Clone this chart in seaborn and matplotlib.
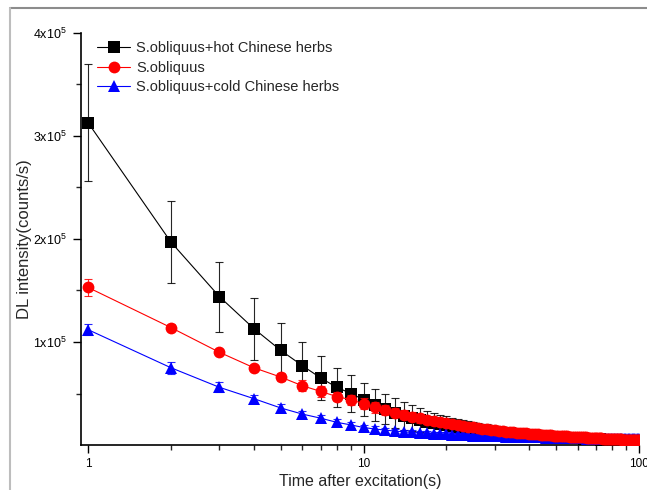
import matplotlib
matplotlib.use("Agg")
import matplotlib.pyplot as plt
import seaborn as sns
import pandas as pd
from matplotlib.ticker import FixedLocator, NullFormatter, LogLocator
from matplotlib.lines import Line2D

# ---------------- data (values in units of 1e5 counts/s) ----------------
time_s = list(range(1, 101))

series_names = ["S.obliquus+hot Chinese herbs", "S.obliquus", "S.obliquus+cold Chinese herbs"]

hot_vals = [3.13, 1.97, 1.44, 1.13, 0.92, 0.77, 0.65, 0.56, 0.50, 0.44,
            0.39, 0.35, 0.31, 0.285, 0.26, 0.24, 0.225, 0.21, 0.20, 0.19,
            0.18, 0.172, 0.165, 0.158, 0.152, 0.146, 0.141, 0.136, 0.131, 0.127,
            0.123, 0.119, 0.115, 0.112, 0.109, 0.106, 0.103, 0.100, 0.097, 0.095,
            0.093, 0.091, 0.089, 0.087, 0.085, 0.083, 0.081, 0.079, 0.077, 0.076,
            0.075, 0.074, 0.073, 0.072, 0.071, 0.070, 0.069, 0.068, 0.067, 0.066,
            0.065, 0.064, 0.063, 0.062, 0.061, 0.060, 0.059, 0.058, 0.057, 0.056,
            0.055, 0.054, 0.053, 0.052, 0.052, 0.051, 0.050, 0.049, 0.048, 0.048,
            0.047, 0.046, 0.045, 0.045, 0.044, 0.043, 0.043, 0.042, 0.041, 0.041,
            0.040, 0.039, 0.039, 0.038, 0.038, 0.037, 0.037, 0.036, 0.036, 0.035]
hot_err = [0.57, 0.40, 0.34, 0.30, 0.26, 0.23, 0.21, 0.19, 0.18, 0.16,
           0.155, 0.15, 0.145, 0.135, 0.125, 0.115, 0.105, 0.10, 0.095, 0.09,
           0.085, 0.082, 0.079, 0.076, 0.073, 0.070, 0.067, 0.065, 0.063, 0.061,
           0.059, 0.057, 0.055, 0.053, 0.051, 0.049, 0.048, 0.047, 0.046, 0.045,
           0.044, 0.043, 0.042, 0.041, 0.040, 0.039, 0.038, 0.037, 0.036, 0.035,
           0.035, 0.034, 0.034, 0.033, 0.033, 0.032, 0.032, 0.031, 0.031, 0.030,
           0.030, 0.029, 0.029, 0.028, 0.028, 0.028, 0.027, 0.027, 0.027, 0.026,
           0.026, 0.026, 0.025, 0.025, 0.025, 0.024, 0.024, 0.024, 0.023, 0.023,
           0.023, 0.022, 0.022, 0.022, 0.022, 0.021, 0.021, 0.021, 0.021, 0.020,
           0.020, 0.020, 0.020, 0.019, 0.019, 0.019, 0.019, 0.018, 0.018, 0.018]

ctrl_vals = [1.53, 1.14, 0.90, 0.75, 0.66, 0.575, 0.52, 0.47, 0.44, 0.40,
             0.365, 0.34, 0.315, 0.295, 0.275, 0.26, 0.245, 0.232, 0.22, 0.21,
             0.20, 0.192, 0.184, 0.177, 0.17, 0.164, 0.158, 0.153, 0.148, 0.143,
             0.139, 0.135, 0.131, 0.127, 0.124, 0.121, 0.118, 0.115, 0.112, 0.110,
             0.107, 0.105, 0.103, 0.101, 0.099, 0.097, 0.095, 0.093, 0.091, 0.090,
             0.089, 0.087, 0.086, 0.085, 0.083, 0.082, 0.081, 0.080, 0.079, 0.077,
             0.076, 0.075, 0.074, 0.073, 0.072, 0.071, 0.070, 0.069, 0.068, 0.067,
             0.066, 0.065, 0.064, 0.063, 0.062, 0.062, 0.061, 0.060, 0.059, 0.058,
             0.058, 0.057, 0.056, 0.055, 0.055, 0.054, 0.053, 0.053, 0.052, 0.051,
             0.051, 0.050, 0.049, 0.049, 0.048, 0.047, 0.047, 0.046, 0.045, 0.044]
ctrl_err = [0.08, 0.03, 0.03, 0.03, 0.04, 0.055, 0.05, 0.045, 0.05, 0.055,
            0.05, 0.05, 0.048, 0.046, 0.044, 0.042, 0.040, 0.039, 0.038, 0.037,
            0.036, 0.035, 0.034, 0.033, 0.032, 0.031, 0.030, 0.030, 0.029, 0.028,
            0.028, 0.027, 0.027, 0.026, 0.026, 0.025, 0.025, 0.024, 0.024, 0.023,
            0.023, 0.023, 0.022, 0.022, 0.022, 0.021, 0.021, 0.021, 0.020, 0.020,
            0.020, 0.020, 0.019, 0.019, 0.019, 0.019, 0.018, 0.018, 0.018, 0.018,
            0.017, 0.017, 0.017, 0.017, 0.017, 0.016, 0.016, 0.016, 0.016, 0.016,
            0.015, 0.015, 0.015, 0.015, 0.015, 0.015, 0.014, 0.014, 0.014, 0.014,
            0.014, 0.014, 0.013, 0.013, 0.013, 0.013, 0.013, 0.013, 0.012, 0.012,
            0.012, 0.012, 0.012, 0.012, 0.012, 0.011, 0.011, 0.011, 0.011, 0.011]

cold_vals = [1.12, 0.75, 0.56, 0.45, 0.36, 0.30, 0.26, 0.22, 0.195, 0.17,
             0.155, 0.145, 0.135, 0.128, 0.122, 0.117, 0.113, 0.109, 0.106, 0.103,
             0.100, 0.098, 0.096, 0.094, 0.092, 0.090, 0.089, 0.087, 0.086, 0.085,
             0.084, 0.083, 0.082, 0.081, 0.080, 0.079, 0.078, 0.078, 0.077, 0.076,
             0.075, 0.075, 0.074, 0.073, 0.073, 0.072, 0.071, 0.071, 0.070, 0.070,
             0.069, 0.069, 0.068, 0.068, 0.067, 0.067, 0.067, 0.066, 0.066, 0.065,
             0.065, 0.065, 0.064, 0.064, 0.063, 0.063, 0.063, 0.062, 0.062, 0.062,
             0.061, 0.061, 0.061, 0.060, 0.060, 0.060, 0.060, 0.059, 0.059, 0.059,
             0.058, 0.058, 0.058, 0.058, 0.057, 0.057, 0.057, 0.057, 0.057, 0.056,
             0.056, 0.056, 0.056, 0.056, 0.055, 0.055, 0.055, 0.055, 0.055, 0.055]
cold_err = [0.05, 0.06, 0.05, 0.04, 0.035, 0.03, 0.03, 0.028, 0.027, 0.026,
            0.025, 0.024, 0.023, 0.022, 0.021, 0.021, 0.020, 0.020, 0.019, 0.019,
            0.018, 0.018, 0.018, 0.017, 0.017, 0.017, 0.016, 0.016, 0.016, 0.016,
            0.015, 0.015, 0.015, 0.015, 0.015, 0.015, 0.014, 0.014, 0.014, 0.014,
            0.014, 0.014, 0.014, 0.014, 0.013, 0.013, 0.013, 0.013, 0.013, 0.013,
            0.013, 0.013, 0.013, 0.013, 0.012, 0.012, 0.012, 0.012, 0.012, 0.012,
            0.012, 0.012, 0.012, 0.012, 0.012, 0.011, 0.011, 0.011, 0.011, 0.011,
            0.011, 0.011, 0.011, 0.011, 0.011, 0.011, 0.011, 0.011, 0.010, 0.010,
            0.010, 0.010, 0.010, 0.010, 0.010, 0.010, 0.010, 0.010, 0.010, 0.010,
            0.010, 0.010, 0.010, 0.010, 0.010, 0.010, 0.010, 0.010, 0.010, 0.010]

y_tick_vals = [1, 2, 3, 4]
y_tick_labels = ["1x10$^{5}$", "2x10$^{5}$", "3x10$^{5}$", "4x10$^{5}$"]
x_tick_vals = [1, 10, 100]
x_tick_labels = ["1", "10", "100"]

scale = 1e5

# ---------------- styling ----------------
sns.set_style("ticks")
plt.rcParams["font.family"] = ["Liberation Sans", "DejaVu Sans"]
plt.rcParams["mathtext.fontset"] = "custom"
plt.rcParams["mathtext.rm"] = "Liberation Sans"
plt.rcParams["mathtext.default"] = "regular"

fig = plt.figure(figsize=(6.47, 4.90), dpi=100)
ax = fig.add_axes([81 / 647, 1 - 445 / 490, (639 - 81) / 647, (445 - 33) / 490])

specs = [
    (series_names[0], hot_vals, hot_err, "black", "s", 3, 8.0),
    (series_names[2], cold_vals, cold_err, "#0000ff", "^", 4, 9.0),
    (series_names[1], ctrl_vals, ctrl_err, "#ff0000", "o", 5, 8.5),
]

for name, vals, errs, col, mk, z, ms in specs:
    df = pd.DataFrame({"t": time_s,
                       "v": [v * scale for v in vals],
                       "e": [e * scale for e in errs]})
    ax.errorbar(df["t"], df["v"], yerr=df["e"], fmt="none", ecolor=col,
                elinewidth=0.8, capsize=3.2, capthick=0.8, zorder=z, alpha=0.85)
    sns.lineplot(data=df, x="t", y="v", color=col, marker=mk, markersize=ms,
                 markeredgewidth=0, linewidth=0.8, ax=ax, zorder=z + 0.5,
                 errorbar=None)

ax.set_xscale("log")
ax.set_xlim(0.943, 100)
ax.set_ylim(0, 4e5)

ax.set_xticks(x_tick_vals)
ax.set_xticklabels(x_tick_labels)
ax.xaxis.set_minor_locator(LogLocator(base=10, subs=[2, 3, 4, 5, 6, 7, 8, 9]))
ax.xaxis.set_minor_formatter(NullFormatter())

ax.set_yticks([v * scale for v in y_tick_vals])
ax.set_yticklabels(y_tick_labels)
ax.yaxis.set_minor_locator(FixedLocator([0.5e5, 1.5e5, 2.5e5, 3.5e5]))

ax.tick_params(which="major", direction="out", length=6, width=1.0,
               labelsize=9, colors="black", pad=4)
ax.tick_params(which="minor", direction="out", length=3.5, width=1.0)
ax.tick_params(axis="x", labelsize=8.5, pad=3.5)

for side in ["top", "right"]:
    ax.spines[side].set_visible(False)
for side in ["left", "bottom"]:
    ax.spines[side].set_linewidth(1.2)
    ax.spines[side].set_color("black")

ax.set_xlabel("Time after excitation(s)", fontsize=11.5)
ax.set_ylabel("DL intensity(counts/s)", fontsize=12)
ax.xaxis.set_label_coords(0.5, -0.071)
ax.yaxis.set_label_coords(-0.087, 0.5)

handles = [
    Line2D([], [], color="black", marker="s", markersize=8, lw=0.8, markeredgewidth=0),
    Line2D([], [], color="#ff0000", marker="o", markersize=8.5, lw=0.8, markeredgewidth=0),
    Line2D([], [], color="#0000ff", marker="^", markersize=9, lw=0.8, markeredgewidth=0),
]
ax.legend(handles, series_names, loc="upper left", bbox_to_anchor=(0.01, 1.005),
          frameon=False, fontsize=10.5, handlelength=2.3, handletextpad=0.4,
          labelspacing=0.38, borderaxespad=0.3)

# gray frame around the figure (top and left edges visible)
fig.add_artist(Line2D([10 / 647, 1], [1 - 8 / 490, 1 - 8 / 490],
                      transform=fig.transFigure, color="#8c8c8c", lw=1.5))
fig.add_artist(Line2D([10 / 647, 10 / 647], [0, 1 - 8 / 490],
                      transform=fig.transFigure, color="#bdbdbd", lw=1.5))

fig.savefig("out.png", dpi=100)
